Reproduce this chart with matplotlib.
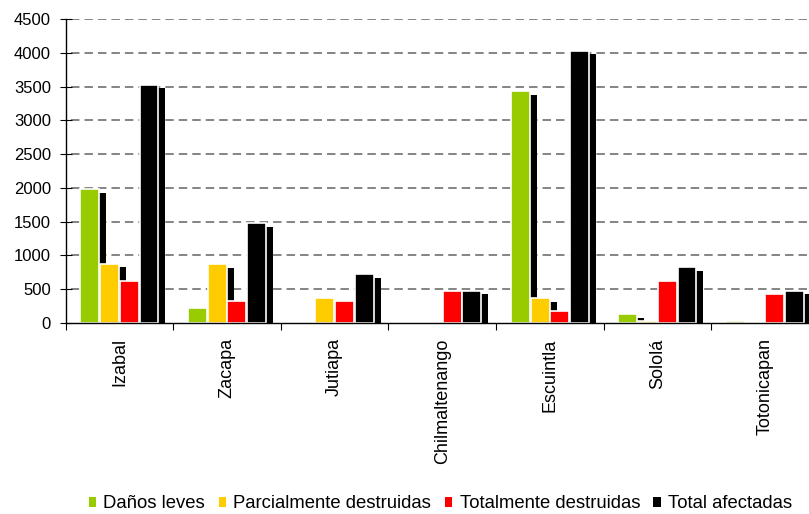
import numpy as np
import matplotlib
matplotlib.use('Agg')
import matplotlib.pyplot as plt
import matplotlib.transforms as mtransforms
from matplotlib.patches import Patch

plt.rcParams['font.family'] = ['Liberation Sans', 'DejaVu Sans']
plt.rcParams['lines.scale_dashes'] = False

# Datos por departamento
departamentos = ['Izabal', 'Zacapa', 'Jutiapa', 'Chilmaltenango',
                 'Escuintla', 'Sololá', 'Totonicapan']
danos_leves = [1980, 222, 0, 0, 3434, 128, 30]
parcialmente = [880, 873, 375, 0, 370, 30, 0]
totalmente = [622, 321, 321, 474, 175, 622, 425]
total_afectadas = [3530, 1476, 721, 474, 4031, 824, 474]

series = [danos_leves, parcialmente, totalmente, total_afectadas]
nombres = ['Daños leves', 'Parcialmente destruidas',
           'Totalmente destruidas', 'Total afectadas']
colores = ['#99CC00', '#FFCC00', '#FF0000', '#000000']
yticks = np.arange(0, 4501, 500)

fig = plt.figure(figsize=(8.09, 5.14), dpi=100)
ax = fig.add_axes([0.0812, 0.3716, 0.931, 0.5914])

x = np.arange(len(departamentos))
paso = 0.183
ancho = 0.176

# líneas de guía punteadas (sin la de cero)
for yv in yticks[1:]:
    ax.axhline(yv, color='#707070', linewidth=1.2,
               linestyle=(6.1, (6.1, 3.6)), zorder=1)

# sombra desplazada (estilo Excel)
sombra = ax.transData + mtransforms.ScaledTranslation(0.07, -0.035, fig.dpi_scale_trans)
for i, vals in enumerate(series):
    vals = np.array(vals)
    pos = (x + (i - 1.5) * paso)[vals > 0]
    ax.bar(pos, vals[vals > 0], width=ancho, color='black', linewidth=0,
           transform=sombra, zorder=1.5)
for i, vals in enumerate(series):
    vals = np.array(vals)
    pos = (x + (i - 1.5) * paso)[vals > 0]
    ax.bar(pos, vals[vals > 0], width=ancho, color=colores[i],
           edgecolor='white', linewidth=1.2, zorder=2)

ax.set_xlim(-0.5, len(departamentos) - 0.5)
ax.set_ylim(0, 4500)
ax.set_yticks(yticks)
ax.tick_params(axis='y', direction='inout', length=8.4, width=0.8,
               labelsize=12, pad=6.4)
ax.set_xticks(x)
ax.set_xticklabels(departamentos, rotation=90, va='top', fontsize=13)
ax.set_xticks(np.arange(len(departamentos) + 1) - 0.5, minor=True)
ax.tick_params(axis='x', which='major', length=0, pad=11)
ax.tick_params(axis='x', which='minor', direction='out', length=5, width=0.8)

for s in ['top', 'right']:
    ax.spines[s].set_visible(False)
for s in ['left', 'bottom']:
    ax.spines[s].set_linewidth(1.0)
    ax.spines[s].set_zorder(3)

handles = [Patch(facecolor=c, edgecolor='none') for c in colores]
fig.legend(handles, nombres, loc='center', bbox_to_anchor=(0.5445, 0.0195),
           ncol=4, frameon=False, fontsize=13.3, handlelength=0.42,
           handleheight=0.42, handletextpad=0.39, columnspacing=0.72,
           borderpad=0, borderaxespad=0)

fig.savefig('out.png', dpi=100)
